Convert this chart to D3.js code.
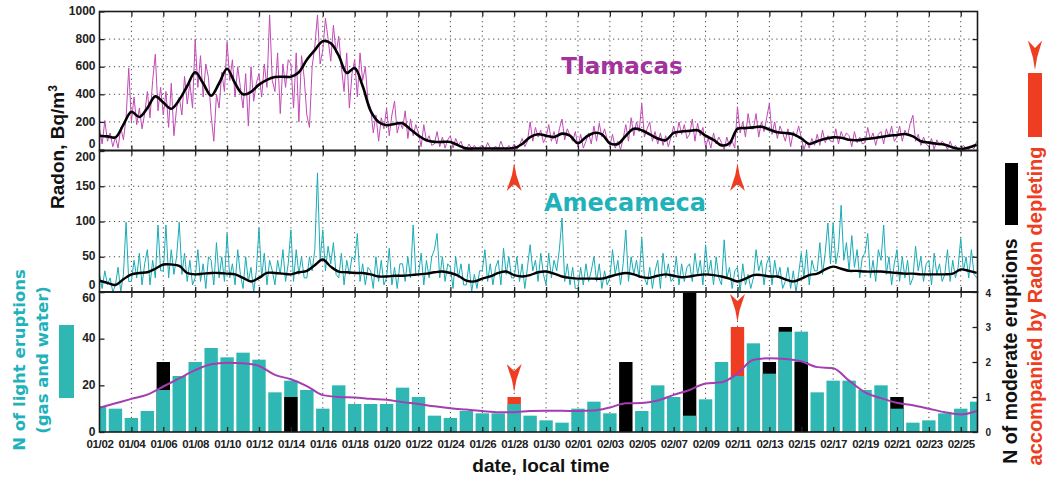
<!DOCTYPE html>
<html><head><meta charset="utf-8">
<script src="https://cdn.jsdelivr.net/npm/d3@7"></script>
<style>body{margin:0;background:#fff}</style>
</head><body>
<svg id="c" width="1051" height="479"></svg>
<script>
// ---------------- data ----------------
const tickLabels = ["01/02","01/04","01/06","01/08","01/10","01/12","01/14","01/16","01/18","01/20","01/22","01/24","01/26","01/28","01/30","02/01","02/03","02/05","02/07","02/09","02/11","02/13","02/15","02/17","02/19","02/21","02/23","02/25"];
// Tlamacas radon, 6 readings per day (Bq/m3)
const tlaRadon = [
 150,40,210,60,120,20, 90,10,160,70,230,590, 200,380,180,300,150,260, 420,230,500,690,280,450, 250,420,160,480,100,300,
 380,250,530,330,480,300, 800,450,680,380,620,520, 250,60,400,300,560,420, 780,500,650,380,600,450, 300,550,170,600,350,480,
 550,380,620,450,975,500, 420,700,260,620,450,650, 620,300,700,200,680,520, 250,160,600,750,975,620, 720,950,800,640,900,700,
 820,600,420,700,300,550, 650,380,700,500,600,350, 300,120,250,60,230,150, 300,100,250,350,120,200, 150,280,80,220,100,180,
 120,20,180,60,100,30, 40,130,20,90,10,70, 100,10,80,30,60,0, 0,40,5,30,0,20, 30,0,50,10,0,25,
 0,60,10,0,30,5, 40,0,30,80,20,60, 200,60,160,90,140,50, 90,180,60,130,40,150, 220,70,150,100,60,130,
 20,110,10,60,120,40, 170,60,190,90,150,70, 30,110,10,60,0,80, 180,60,230,100,200,130, 330,90,150,200,60,130,
 40,120,30,100,20,90, 170,90,200,110,180,80, 110,220,60,190,100,160, 20,80,10,120,40,90, 50,0,90,20,60,10,
 310,120,200,90,260,150, 150,260,90,200,130,230, 334,110,200,80,170,120, 60,150,20,130,90,170, 90,0,60,10,80,30,
 110,30,140,50,100,60, 60,150,40,130,80,120, 100,20,130,50,90,40, 50,160,70,120,30,110, 130,40,150,90,170,60,
 90,170,60,140,100,190, 248,60,110,30,90,40, 20,80,0,70,30,60, 40,0,60,10,30,0, 0,30,10,0,20,5, 60];
// Tlamacas smoothed, every half day
const tlaSmooth = [100,95,88,180,273,236,300,385,340,295,360,460,560,480,390,480,585,480,400,418,470,505,525,527,527,560,650,720,785,770,
 680,555,590,460,280,200,176,185,190,145,100,67,55,55,55,30,8,7,7,7,7,7,10,40,90,110,100,90,115,100,
 45,90,120,110,45,40,100,150,140,110,80,67,120,130,135,139,100,70,30,45,150,155,160,165,145,125,120,110,80,40,
 60,78,88,85,70,67,75,82,90,100,105,112,95,60,50,42,35,15,4,15,35];
// Amecameca radon, 6 readings per day (Bq/m3)
const ameRadon = [
 25,5,30,10,20,0, 10,35,0,25,99,15, 15,45,20,55,10,40, 60,10,45,20,95,30, 30,95,20,60,25,50,
 99,25,55,15,45,10, 20,60,15,40,5,50, 45,10,70,20,50,15, 83,20,40,10,60,25, 5,50,15,35,0,30,
 91,20,55,10,45,30, 10,45,25,60,15,40, 88,15,60,25,50,20, 20,50,30,60,169,45, 88,30,65,40,70,25,
 20,55,10,45,25,50, 45,83,15,40,10,35, 30,5,50,15,45,10, 20,62,10,35,5,40, 40,15,50,20,95,25,
 25,55,10,45,20,50, 60,83,20,50,15,40, 35,5,50,20,40,10, 10,40,0,25,5,30, 30,60,15,40,10,35,
 45,10,62,25,50,20, 20,50,15,40,5,35, 67,30,45,15,55,25, 10,55,20,45,30,60, 105,15,40,10,35,5,
 5,35,10,40,15,30, 50,15,40,5,30,10, 20,60,25,45,10,40, 88,15,50,25,45,20, 76,20,10,35,5,30,
 45,5,55,20,40,15, 20,50,10,40,15,35, 40,15,55,25,45,10, 67,25,45,10,50,20, 10,74,20,35,5,30,
 35,0,40,10,25,5, 20,60,30,45,10,40, 50,10,45,20,35,5, 15,35,5,30,0,25, 55,20,60,10,45,30,
 30,70,25,55,98,40, 98,40,60,123,45,70, 30,80,35,60,20,50, 55,83,20,45,15,60, 45,95,25,50,10,40,
 60,15,50,20,45,10, 20,65,30,50,15,40, 45,10,55,25,40,15, 25,60,15,45,20,35, 76,30,50,20,60,25, 20];
// Amecameca smoothed, every half day
const ameSmooth = [16,13,10,18,25,27,28,33,39,39,37,27,25,26,27,27,26,25,20,15,20,27,27,26,25,28,30,38,46,36,
 29,28,27,27,25,22,22,23,23,24,25,26,28,29,27,23,16,15,19,22,27,29,24,22,24,28,29,26,22,20,
 19,19,19,19,22,25,27,25,21,20,23,25,23,21,22,24,25,24,22,19,15,19,24,24,22,22,18,15,19,24,
 26,32,36,33,30,30,29,29,29,28,27,26,26,25,25,25,25,26,32,30,27];
// daily counts
const lightEruptions = [11,10,6,9,18,24,30,36,32,34,31,17,22,18,10,20,12,12,12,19,15,7,6,9,8,8,12,7,5,4,10,13,8,0,9,20,15,7,14,30,24,38,25,43,43,17,22,22,18,20,10,4,5,8,10,13];
const moderateEruptions = [0,0,0,0,2,0,0,0,0,0,0,0,1,0,0,0,0,0,0,0,0,0,0,0,0,0,0,0,0,0,0,0,0,2,0,0,0,4,0,0,0,0,2,3,2,0,0,0,0,0,1,0,0,0,0,0];
const radonDepleting = [0,0,0,0,0,0,0,0,0,0,0,0,0,0,0,0,0,0,0,0,0,0,0,0,0,0,1,0,0,0,0,0,0,0,0,0,0,0,0,0,3,0,0,0,0,0,0,0,0,0,0,0,0,0,0,0];
const lightAvg = [10.4,12.3,14.2,16,19.5,23,26.5,29,29.7,29.5,28.3,24.5,22.6,19.7,15.8,15,14.8,14.2,13.8,12.8,12,11,10.2,9.6,9,8.5,8.5,9,9.1,9.1,
 9,9.2,10.5,12.3,12.4,13.5,15.9,18,20.8,21.3,25,31,31.6,31.3,30.3,27.8,27.3,22,17,14.5,12.5,11.5,10,8.5,7.5,9];
const depletionDays = [26, 40];

// ---------------- layout ----------------
const svg = d3.select("#c");
const L = 99.5, R = 977.5;
const P = {top:[11.5,150.5], mid:[150.5,292], bot:[292,432]};
const x = d3.scaleLinear().domain([0,55.05]).range([L,R]);
const yT = d3.scaleLinear().domain([0,1000]).range([149.5,11.5]);
const yM = d3.scaleLinear().domain([0,200]).range([292,151]);
const yB = d3.scaleLinear().domain([0,60]).range([432,292]);
const yR = d3.scaleLinear().domain([0,4]).range([432,292]);
const evenDays = d3.range(0,55,2);
const cMag = "#c14ab6", cCyan = "#19abb6", cBar = "#2fb8b3", cRed = "#ef3d22";
const FONT = "'Liberation Sans', Arial, sans-serif";
const fmt = d3.format("d");

const defs = svg.append("defs");
Object.entries(P).forEach(([k,[a,b]])=>{
  defs.append("clipPath").attr("id","clip-"+k).append("rect").attr("x",L).attr("y",a).attr("width",R-L).attr("height",b-a);
});

function grid(panel, hVals, yS){
  const [a,b] = P[panel];
  const g = svg.append("g").attr("stroke","#444").attr("stroke-width",1).attr("stroke-dasharray","1.2,3.6");
  g.selectAll("line.v").data(evenDays.filter(d=>d>0)).join("line")
    .attr("x1",d=>x(d)).attr("x2",d=>x(d)).attr("y1",a).attr("y2",b);
  if(hVals) g.selectAll("line.h").data(hVals).join("line")
    .attr("x1",L).attr("x2",R).attr("y1",d=>yS(d)).attr("y2",d=>yS(d));
}
grid("top",[200,400,600,800],yT);
grid("mid",[50,100,150],yM);
grid("bot",null,null);

// ---------------- top panel ----------------
const gT = svg.append("g").attr("clip-path","url(#clip-top)");
gT.append("path").datum(tlaRadon).attr("fill","none").attr("stroke",cMag).attr("stroke-width",1)
  .attr("d", d3.line().x((v,i)=>x(i/6)).y(v=>yT(v)));
gT.append("path").datum(tlaSmooth).attr("fill","none").attr("stroke","#000").attr("stroke-width",2.6)
  .attr("d", d3.line().curve(d3.curveCatmullRom).x((v,i)=>x(i/2)).y(v=>yT(v)));

// ---------------- middle panel ----------------
const gM = svg.append("g").attr("clip-path","url(#clip-mid)");
gM.append("path").datum(ameRadon).attr("fill","none").attr("stroke",cCyan).attr("stroke-width",1)
  .attr("d", d3.line().x((v,i)=>x(i/6)).y(v=>yM(v)));
gM.append("path").datum(ameSmooth).attr("fill","none").attr("stroke","#000").attr("stroke-width",2.4)
  .attr("d", d3.line().curve(d3.curveCatmullRom).x((v,i)=>x(i/2)).y(v=>yM(v)));

// ---------------- bottom panel ----------------
const gB = svg.append("g").attr("clip-path","url(#clip-bot)");
const bw = 13.4;
lightEruptions.forEach((v,i)=>{
  const items = [{y:yB(v),c:cBar},{y:yR(moderateEruptions[i]),c:"#000"},{y:yR(radonDepleting[i]),c:cRed}]
    .filter(o=>o.y<432).sort((p,q)=>p.y-q.y);
  items.forEach(o=>{
    gB.append("rect").attr("x",x(i)-bw/2).attr("width",bw).attr("y",o.y).attr("height",432-o.y).attr("fill",o.c);
  });
});
gB.append("path").datum(lightAvg).attr("fill","none").attr("stroke","#a43db2").attr("stroke-width",2)
  .attr("d", d3.line().curve(d3.curveMonotoneX).x((v,i)=>x(i)).y(v=>yB(v)));

// arrows
const arrowPath = "M0,0 L-2.2,-12 L-7.5,-28 L0,-21 L7.5,-28 L2.2,-12 Z";
depletionDays.forEach(d=>{
  const top = yR(radonDepleting[d]);
  svg.append("path").attr("d",arrowPath).attr("fill",cRed).attr("transform",`translate(${x(d)},${top-5})`);
  svg.append("path").attr("d",arrowPath).attr("fill",cRed).attr("transform",`translate(${x(d)},163) scale(1,-1)`);
});

// ---------------- frames & axes ----------------
Object.values(P).forEach(([a,b])=>{
  svg.append("rect").attr("x",L).attr("y",a).attr("width",R-L).attr("height",b-a)
    .attr("fill","none").attr("stroke","#1a1a1a").attr("stroke-width",1.6);
});
function styleAxis(g, size){
  g.select(".domain").remove();
  g.selectAll("line").attr("stroke","#222").attr("stroke-width",1.3);
  g.selectAll("text").attr("font-family",FONT).attr("font-weight","bold").attr("font-size",size||12).attr("fill","#222");
}
[[11.5,"top"],[150.5,"both"],[292,"both"],[432,"up"]].forEach(([yy,mode])=>{
  if(mode==="top"||mode==="both"){
    const g = svg.append("g").attr("transform",`translate(0,${yy})`).call(d3.axisBottom(x).tickValues(evenDays.filter(d=>d>0)).tickSize(5).tickFormat(""));
    styleAxis(g);
  }
  if(mode==="up"||mode==="both"){
    const g = svg.append("g").attr("transform",`translate(0,${yy})`).call(d3.axisTop(x).tickValues(evenDays.filter(d=>d>0)).tickSize(5).tickFormat(""));
    styleAxis(g);
  }
});
const gx = svg.append("g").attr("transform","translate(0,432)")
  .call(d3.axisBottom(x).tickValues(evenDays).tickSize(0).tickPadding(8).tickFormat((d,i)=>tickLabels[i]));
styleAxis(gx,11.5);
gx.selectAll("text").attr("letter-spacing","-0.4");

function yAxis(scale, vals, shift){
  const g = svg.append("g").attr("transform",`translate(${L},0)`)
    .call(d3.axisLeft(scale).tickValues(vals).tickSizeInner(-5).tickPadding(4).tickFormat(fmt));
  styleAxis(g,12);
  g.selectAll(".tick text").attr("dy",(d)=> (shift[d]!==undefined? shift[d] : 0) + "px").attr("dominant-baseline","middle");
  return g;
}
yAxis(yT,[0,200,400,600,800,1000],{0:-5});
yAxis(yM,[0,50,100,150,200],{200:6,0:-7});
yAxis(yB,[0,20,40,60],{60:6});
const rT = svg.append("g").attr("transform",`translate(${R},0)`).call(d3.axisRight(yT).tickValues([200,400,600,800]).tickSize(-5).tickFormat(""));
styleAxis(rT);
const rM = svg.append("g").attr("transform",`translate(${R},0)`).call(d3.axisRight(yM).tickValues([50,100,150]).tickSize(-5).tickFormat(""));
styleAxis(rM);
const rB = svg.append("g").attr("transform",`translate(${R},0)`).call(d3.axisRight(yR).tickValues([0,1,2,3,4]).tickSizeInner(-5).tickPadding(8).tickFormat(fmt));
styleAxis(rB,10);
rB.selectAll(".tick text").attr("dy",(d)=> d===4? "4px":"0.32em");

// ---------------- texts ----------------
svg.append("text").attr("x",622).attr("y",74).attr("text-anchor","middle")
  .attr("font-family","'DejaVu Sans', sans-serif").attr("font-weight","bold").attr("font-size",23).attr("fill","#a3339c").text("Tlamacas");
svg.append("text").attr("x",625).attr("y",211).attr("text-anchor","middle")
  .attr("font-family","'DejaVu Sans', sans-serif").attr("font-weight","bold").attr("font-size",24).attr("fill","#1fb2ba").text("Amecameca");

svg.append("text").attr("x",541).attr("y",472).attr("text-anchor","middle")
  .attr("font-family",FONT).attr("font-weight","bold").attr("font-size",19).attr("fill","#111").text("date, local time");

function vText(cx, cy, txt, size, color, family){
  return svg.append("text").attr("transform",`translate(${cx},${cy}) rotate(-90)`).attr("text-anchor","middle")
    .attr("font-family",family||FONT).attr("font-weight","bold").attr("font-size",size).attr("fill",color).text(txt);
}
const rad = svg.append("text").attr("transform","translate(64,147) rotate(-90)").attr("text-anchor","middle")
  .attr("font-family",FONT).attr("font-weight","bold").attr("font-size",19).attr("fill","#111");
rad.append("tspan").text("Radon, Bq/m");
rad.append("tspan").attr("baseline-shift","super").attr("font-size",12).text("3");

vText(25,360,"N of light eruptions",16.5,"#1fb2ba","'DejaVu Sans', sans-serif");
vText(48,360,"(gas and water)",16.5,"#1fb2ba","'DejaVu Sans', sans-serif");
vText(1017,351,"N of moderate eruptions",19.5,"#111");
vText(1042,306,"accompanied by Radon depleting",20,cRed);

svg.append("rect").attr("x",59).attr("y",325).attr("width",15).attr("height",73).attr("fill",cBar);
svg.append("rect").attr("x",1005).attr("y",163).attr("width",13).attr("height",62).attr("fill","#000");
svg.append("rect").attr("x",1028).attr("y",73).attr("width",14).attr("height",64).attr("fill",cRed);
svg.append("path").attr("d",arrowPath).attr("fill",cRed).attr("transform","translate(1035,70) scale(0.95,1.05)");
</script>
</body></html>
